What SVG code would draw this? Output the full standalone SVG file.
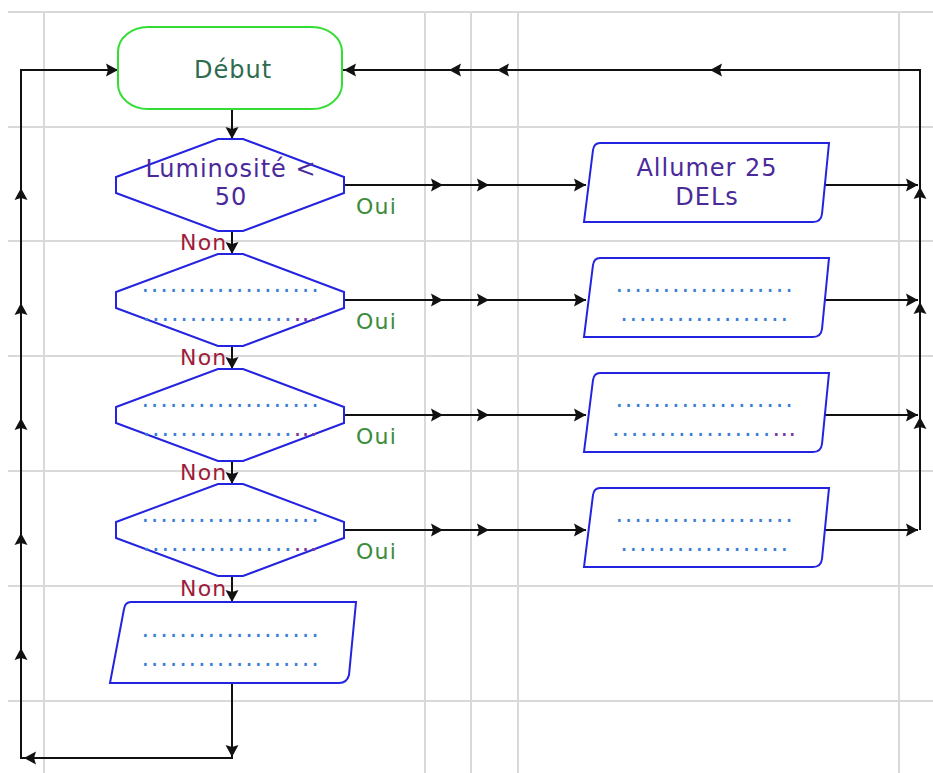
<svg xmlns="http://www.w3.org/2000/svg" xmlns:xlink="http://www.w3.org/1999/xlink" width="933" height="773" viewBox="0 0 933 773">
<style>
.grid line{stroke:#d9d9d9;stroke-width:2}
.node{fill:#ffffff;stroke:#2323e0;stroke-width:2}
.term{fill:#ffffff;stroke:#33dd33;stroke-width:2}
.t{font-family:"DejaVu Sans",Verdana,sans-serif;font-size:24px;letter-spacing:1px;text-anchor:middle}
.tn{fill:#4a2a9a}
.ts{fill:#2e6b4f}
.d{letter-spacing:1.8px}
.dots{fill:#3b7fd8}
.ell{fill:#7a3aa0}
.lab{font-family:"DejaVu Sans",Verdana,sans-serif;font-size:22px;letter-spacing:1.2px}
.oui{fill:#3c8c3c}
.non{fill:#a01c3c}
.conn line,.conn polyline{stroke:#111111;stroke-width:2;fill:none}
.ah{fill:#111111}
</style>
<defs>
<path id="ah" class="ah" d="M0,0 L-12,-6.5 L-10,0 L-12,6.5 Z"/>
</defs>
<rect x="0" y="0" width="933" height="773" fill="#ffffff"/>
<g class="grid">
<line x1="8" y1="12" x2="933" y2="12"/>
<line x1="8" y1="127" x2="933" y2="127"/>
<line x1="8" y1="241" x2="933" y2="241"/>
<line x1="8" y1="356" x2="933" y2="356"/>
<line x1="8" y1="471" x2="933" y2="471"/>
<line x1="8" y1="586" x2="933" y2="586"/>
<line x1="8" y1="701" x2="933" y2="701"/>
<line x1="44" y1="12" x2="44" y2="773"/>
<line x1="425" y1="12" x2="425" y2="773"/>
<line x1="471" y1="12" x2="471" y2="773"/>
<line x1="518" y1="12" x2="518" y2="773"/>
<line x1="899" y1="12" x2="899" y2="773"/>
</g>
<g class="conn">
<polyline points="920,530 920,70 342,70"/>
<line x1="232" y1="109" x2="232" y2="139"/>
<line x1="232" y1="231" x2="232" y2="254"/>
<line x1="232" y1="346" x2="232" y2="369"/>
<line x1="232" y1="461" x2="232" y2="484"/>
<line x1="232" y1="576" x2="232" y2="602"/>
<polyline points="232,683 232,758 21,758 21,70 118,70"/>
<line x1="344" y1="185" x2="586" y2="185"/>
<line x1="344" y1="300" x2="586" y2="300"/>
<line x1="344" y1="415" x2="586" y2="415"/>
<line x1="344" y1="530" x2="586" y2="530"/>
<line x1="825" y1="185" x2="918" y2="185"/>
<line x1="823" y1="300" x2="918" y2="300"/>
<line x1="823" y1="415" x2="918" y2="415"/>
<line x1="823" y1="530" x2="918" y2="530"/>
<use xlink:href="#ah" transform="translate(344,70) rotate(180)"/>
<use xlink:href="#ah" transform="translate(449,70) rotate(180)"/>
<use xlink:href="#ah" transform="translate(497,70) rotate(180)"/>
<use xlink:href="#ah" transform="translate(710,70) rotate(180)"/>
<use xlink:href="#ah" transform="translate(920,187) rotate(-90)"/>
<use xlink:href="#ah" transform="translate(920,302) rotate(-90)"/>
<use xlink:href="#ah" transform="translate(920,417) rotate(-90)"/>
<use xlink:href="#ah" transform="translate(232,139) rotate(90)"/>
<use xlink:href="#ah" transform="translate(232,254) rotate(90)"/>
<use xlink:href="#ah" transform="translate(232,369) rotate(90)"/>
<use xlink:href="#ah" transform="translate(232,484) rotate(90)"/>
<use xlink:href="#ah" transform="translate(232,602) rotate(90)"/>
<use xlink:href="#ah" transform="translate(232,757) rotate(90)"/>
<use xlink:href="#ah" transform="translate(24,758) rotate(180)"/>
<use xlink:href="#ah" transform="translate(21,188) rotate(-90)"/>
<use xlink:href="#ah" transform="translate(21,303) rotate(-90)"/>
<use xlink:href="#ah" transform="translate(21,418) rotate(-90)"/>
<use xlink:href="#ah" transform="translate(21,533) rotate(-90)"/>
<use xlink:href="#ah" transform="translate(21,648) rotate(-90)"/>
<use xlink:href="#ah" transform="translate(118,70)"/>
<use xlink:href="#ah" transform="translate(443,185)"/>
<use xlink:href="#ah" transform="translate(489,185)"/>
<use xlink:href="#ah" transform="translate(586,185)"/>
<use xlink:href="#ah" transform="translate(443,300)"/>
<use xlink:href="#ah" transform="translate(489,300)"/>
<use xlink:href="#ah" transform="translate(586,300)"/>
<use xlink:href="#ah" transform="translate(443,415)"/>
<use xlink:href="#ah" transform="translate(489,415)"/>
<use xlink:href="#ah" transform="translate(586,415)"/>
<use xlink:href="#ah" transform="translate(443,530)"/>
<use xlink:href="#ah" transform="translate(489,530)"/>
<use xlink:href="#ah" transform="translate(586,530)"/>
<use xlink:href="#ah" transform="translate(918,185)"/>
<use xlink:href="#ah" transform="translate(918,300)"/>
<use xlink:href="#ah" transform="translate(918,415)"/>
<use xlink:href="#ah" transform="translate(918,530)"/>
</g>
<g id="debut">
<rect class="term" x="118" y="27" width="224" height="82" rx="30" ry="25"/>
<text class="t ts" x="233" y="78">Début</text>
</g>
<g id="cond1">
<polygon class="node" points="218,139 243,139 344,177 344,193 243,231 218,231 116,193 116,177"/>
<text class="t tn" x="231" y="177">Luminosité &lt;</text>
<text class="t tn" x="231" y="205">50</text>
</g>
<g id="cond2">
<polygon class="node" points="218,254 243,254 344,292 344,308 243,346 218,346 116,308 116,292"/>
<text class="t d dots" x="231" y="292">...................</text>
<text class="t d" x="231" y="321"><tspan class="dots">................</tspan><tspan class="ell">…</tspan></text>
</g>
<g id="cond3">
<polygon class="node" points="218,369 243,369 344,407 344,423 243,461 218,461 116,423 116,407"/>
<text class="t d dots" x="231" y="407">...................</text>
<text class="t d" x="231" y="436"><tspan class="dots">................</tspan><tspan class="ell">…</tspan></text>
</g>
<g id="cond4">
<polygon class="node" points="218,484 243,484 344,522 344,538 243,576 218,576 116,538 116,522"/>
<text class="t d dots" x="231" y="522">...................</text>
<text class="t d" x="231" y="551"><tspan class="dots">................</tspan><tspan class="ell">…</tspan></text>
</g>
<g id="action1">
<path class="node" d="M600,143 L829,143 L822,214 Q821,222 813,222 L584,222 L593,150 Q594,143 600,143 Z"/>
<text class="t tn" x="707" y="176">Allumer 25</text>
<text class="t tn" x="707" y="205">DELs</text>
</g>
<g id="action2">
<path class="node" d="M600,258 L829,258 L822,329 Q821,337 813,337 L584,337 L593,265 Q594,258 600,258 Z"/>
<text class="t d dots" x="705" y="292">...................</text>
<text class="t d dots" x="705" y="321">..................</text>
</g>
<g id="action3">
<path class="node" d="M600,373 L829,373 L822,444 Q821,452 813,452 L584,452 L593,380 Q594,373 600,373 Z"/>
<text class="t d dots" x="705" y="407">...................</text>
<text class="t d" x="705" y="436"><tspan class="dots">.................</tspan><tspan class="ell">…</tspan></text>
</g>
<g id="action4">
<path class="node" d="M600,488 L829,488 L822,559 Q821,567 813,567 L584,567 L593,495 Q594,488 600,488 Z"/>
<text class="t d dots" x="705" y="522">...................</text>
<text class="t d dots" x="705" y="551">..................</text>
</g>
<g id="action5">
<path class="node" d="M131,602 L356,602 L349,675 Q347,683 339,683 L110,683 L124,609 Q125,602 131,602 Z"/>
<text class="t d dots" x="231" y="637">...................</text>
<text class="t d dots" x="231" y="666">...................</text>
</g>
<g id="labels">
<text class="lab oui" x="356" y="214">Oui</text>
<text class="lab oui" x="356" y="329">Oui</text>
<text class="lab oui" x="356" y="444">Oui</text>
<text class="lab oui" x="356" y="559">Oui</text>
<text class="lab non" x="180" y="250">Non</text>
<text class="lab non" x="180" y="365">Non</text>
<text class="lab non" x="180" y="480">Non</text>
<text class="lab non" x="180" y="596">Non</text>
</g>
</svg>
